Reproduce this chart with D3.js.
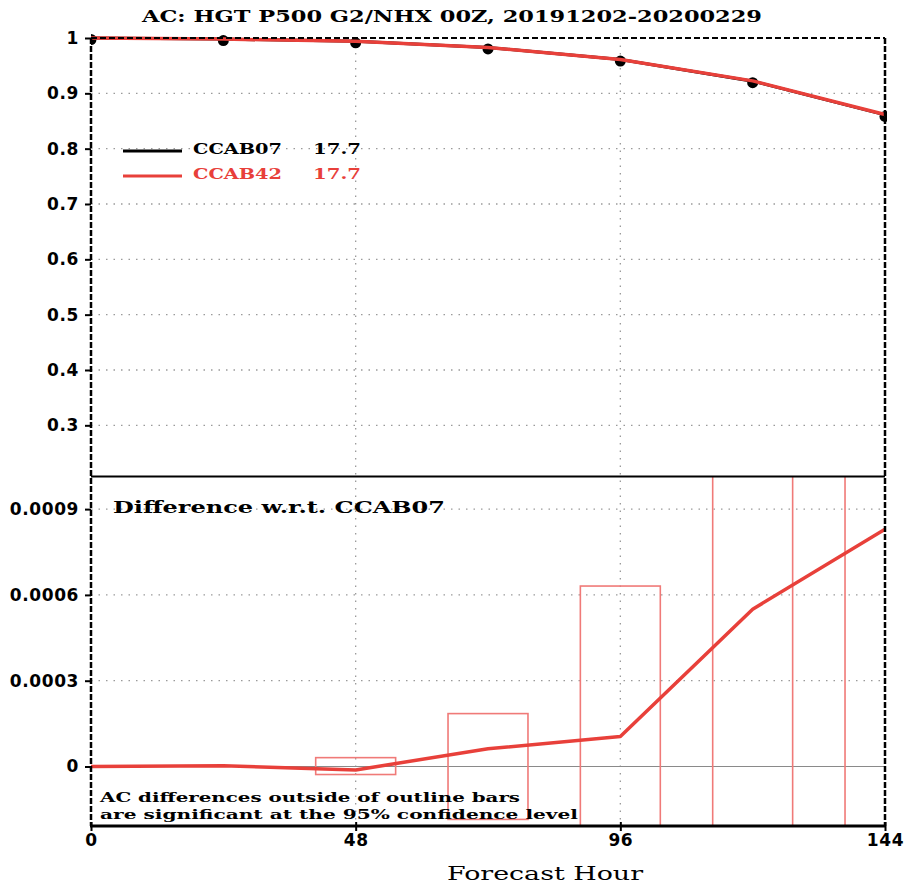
<!DOCTYPE html>
<html>
<head>
<meta charset="utf-8">
<script src="https://cdn.jsdelivr.net/npm/d3@7"></script>
<style>
  html, body { margin: 0; padding: 0; background: #fff; }
  svg { display: block; }
</style>
</head>
<body>
<svg id="chart" width="904" height="885"></svg>
<script>
// ---------------- data ----------------
const hours = [0, 24, 48, 72, 96, 120, 144];
const acCCAB07 = [1.000, 0.998, 0.994, 0.983, 0.961, 0.922, 0.861];
const acCCAB42 = [1.000, 0.998, 0.994, 0.983, 0.961, 0.9225, 0.8618];
const diffCCAB42 = [0.0, 0.000003, -0.000012, 0.000062, 0.000105, 0.00055, 0.00083];
const ciHours = [48, 72, 96, 120, 144];
const ciLower = [-0.000028, -0.000185, -0.00063, -0.0015, -0.0025];
const ciUpper = [0.000031, 0.000185, 0.000631, 0.0015, 0.0025];
const seriesNames = ["CCAB07", "CCAB42"];
const seriesScores = ["17.7", "17.7"];
const xTicks = [0, 48, 96, 144];
const xGrid = [48, 96];
const topTicks = [1, 0.9, 0.8, 0.7, 0.6, 0.5, 0.4, 0.3];
const topTickLabels = ["1", "0.9", "0.8", "0.7", "0.6", "0.5", "0.4", "0.3"];
const botTicks = [0, 0.0003, 0.0006, 0.0009];
const botTickLabels = ["0", "0.0003", "0.0006", "0.0009"];
const titleText = "AC: HGT P500 G2/NHX 00Z, 20191202-20200229";

// ---------------- layout ----------------
const L = 91, R = 885, T = 38, MID = 476.5, B = 826;
const barHalf = 7.25; // hours
const RED = "#e8403a", BAR = "#f07a78", GRID = "#9a9a9a";
const mono = "'DejaVu Serif', 'Liberation Mono', serif";
const sans = "'DejaVu Sans', sans-serif";

const svg = d3.select("#chart");
const x = d3.scaleLinear().domain([0, 144]).range([L, R]);
const yTop = d3.scaleLinear().domain([0.2075, 1]).range([MID, T]);
const yBot = d3.scaleLinear().domain([-0.000208, 0.001014]).range([B, MID]);

function stretchText(str, px, py, width, size, opts = {}) {
  return svg.append("text")
    .attr("x", px).attr("y", py)
    .attr("font-family", opts.family || mono)
    .attr("font-size", size)
    .attr("font-weight", opts.weight || "bold")
    .attr("fill", opts.fill || "#000")
    .attr("textLength", width)
    .attr("lengthAdjust", "spacingAndGlyphs")
    .attr("text-anchor", opts.anchor || "start")
    .text(str);
}

const defs = svg.append("defs");
defs.append("clipPath").attr("id", "clipBot")
  .append("rect").attr("x", L).attr("y", MID).attr("width", R - L).attr("height", B - MID);
defs.append("clipPath").attr("id", "clipTop")
  .append("rect").attr("x", L).attr("y", T - 6).attr("width", R - L + 2).attr("height", MID - T + 6);

// ---------------- grid ----------------
const grid = svg.append("g").attr("stroke", GRID).attr("stroke-width", 1.3).attr("stroke-dasharray", "1.5,6");
grid.selectAll("line.ht").data(topTicks.filter(d => d < 1)).join("line")
  .attr("x1", L).attr("x2", R).attr("y1", d => yTop(d)).attr("y2", d => yTop(d));
grid.selectAll("line.hb").data(botTicks.filter(d => d !== 0)).join("line").attr("class", "hb")
  .attr("x1", L).attr("x2", R).attr("y1", d => yBot(d)).attr("y2", d => yBot(d));
grid.selectAll("line.v").data(xGrid).join("line").attr("class", "v")
  .attr("x1", d => x(d)).attr("x2", d => x(d)).attr("y1", T).attr("y2", B);

// zero line
svg.append("line").attr("x1", L).attr("x2", R).attr("y1", yBot(0)).attr("y2", yBot(0))
  .attr("stroke", "#8a8a8a").attr("stroke-width", 1.2);

// ---------------- top panel ----------------
const gTop = svg.append("g").attr("clip-path", "url(#clipTop)");
const lineTop = d3.line().x((d, i) => x(hours[i])).y(d => yTop(d));
gTop.append("path").datum(acCCAB07).attr("d", lineTop)
  .attr("fill", "none").attr("stroke", "#000").attr("stroke-width", 3);
gTop.selectAll("circle").data(acCCAB07).join("circle")
  .attr("cx", (d, i) => x(hours[i])).attr("cy", d => yTop(d) + 1.5).attr("r", 5.5).attr("fill", "#000");
gTop.append("path").datum(acCCAB42).attr("d", lineTop)
  .attr("fill", "none").attr("stroke", RED).attr("stroke-width", 3.5).attr("stroke-linejoin", "round");

// legend
const legColors = ["#000", RED];
seriesNames.forEach((n, i) => {
  const ly = 151 + i * 25;
  svg.append("line").attr("x1", 123).attr("x2", 182).attr("y1", ly).attr("y2", ly)
    .attr("stroke", legColors[i]).attr("stroke-width", 3);
  stretchText(n, 193, ly + 3, 89, 15.5, { fill: legColors[i] });
  stretchText(seriesScores[i], 313, ly + 3, 48, 15.5, { fill: legColors[i] });
});

// ---------------- bottom panel ----------------
const gBot = svg.append("g").attr("clip-path", "url(#clipBot)");
gBot.selectAll("rect.ci").data(ciHours).join("rect").attr("class", "ci")
  .attr("x", d => x(d - barHalf))
  .attr("width", d => x(d + barHalf) - x(d - barHalf))
  .attr("y", (d, i) => yBot(ciUpper[i]))
  .attr("height", (d, i) => yBot(ciLower[i]) - yBot(ciUpper[i]))
  .attr("fill", "none").attr("stroke", BAR).attr("stroke-width", 1.6);
const lineBot = d3.line().x((d, i) => x(hours[i])).y(d => yBot(d));
gBot.append("path").datum(diffCCAB42).attr("d", lineBot)
  .attr("fill", "none").attr("stroke", RED).attr("stroke-width", 3.5).attr("stroke-linejoin", "round");

stretchText("Difference w.r.t. CCAB07", 113, 513, 332, 16);
stretchText("AC differences outside of outline bars", 100, 802, 420, 13.5);
stretchText("are significant at the 95% confidence level", 100, 819, 478, 13.5);

// ---------------- frame ----------------
const frame = svg.append("g").attr("fill", "none");
frame.append("line").attr("x1", L).attr("x2", R).attr("y1", T).attr("y2", T)
  .attr("stroke", "#000").attr("stroke-width", 2).attr("stroke-dasharray", "6,3");
frame.append("line").attr("x1", L).attr("x2", L).attr("y1", T).attr("y2", B)
  .attr("stroke", "#000").attr("stroke-width", 2.5).attr("stroke-dasharray", "6,2");
frame.append("line").attr("x1", R).attr("x2", R).attr("y1", T).attr("y2", B)
  .attr("stroke", "#000").attr("stroke-width", 2.5).attr("stroke-dasharray", "6,2");
frame.append("line").attr("x1", L).attr("x2", R).attr("y1", MID).attr("y2", MID)
  .attr("stroke", "#000").attr("stroke-width", 2);

// ---------------- axes ----------------
function styleAxis(g) {
  g.select(".domain").remove();
  g.selectAll(".tick line").attr("stroke", "#000").attr("stroke-width", 2);
  g.selectAll(".tick text").attr("font-family", sans).attr("font-weight", "bold")
    .attr("font-size", 17).attr("fill", "#000").attr("letter-spacing", 0.6);
}
svg.append("g").attr("transform", `translate(${L},0)`)
  .call(d3.axisLeft(yTop).tickValues(topTicks).tickFormat((d, i) => topTickLabels[i]).tickSize(6).tickPadding(6))
  .call(styleAxis);
svg.append("g").attr("transform", `translate(${L},0)`)
  .call(d3.axisLeft(yBot).tickValues(botTicks).tickFormat((d, i) => botTickLabels[i]).tickSize(6).tickPadding(6))
  .call(styleAxis);
const xAxisG = svg.append("g").attr("transform", `translate(0,${B})`)
  .call(d3.axisBottom(x).tickValues(xTicks).tickFormat(d3.format("d")).tickSize(5).tickPadding(3))
  .call(styleAxis);
xAxisG.selectAll(".tick line").attr("y1", -4);
svg.append("line").attr("x1", L - 1).attr("x2", R + 1).attr("y1", B).attr("y2", B)
  .attr("stroke", "#000").attr("stroke-width", 3);

// titles
stretchText(titleText, 452, 22, 620, 17.5, { anchor: "middle" });
stretchText("Forecast Hour", 545, 880, 196, 18, { anchor: "middle", weight: "normal" });
</script>
</body>
</html>
